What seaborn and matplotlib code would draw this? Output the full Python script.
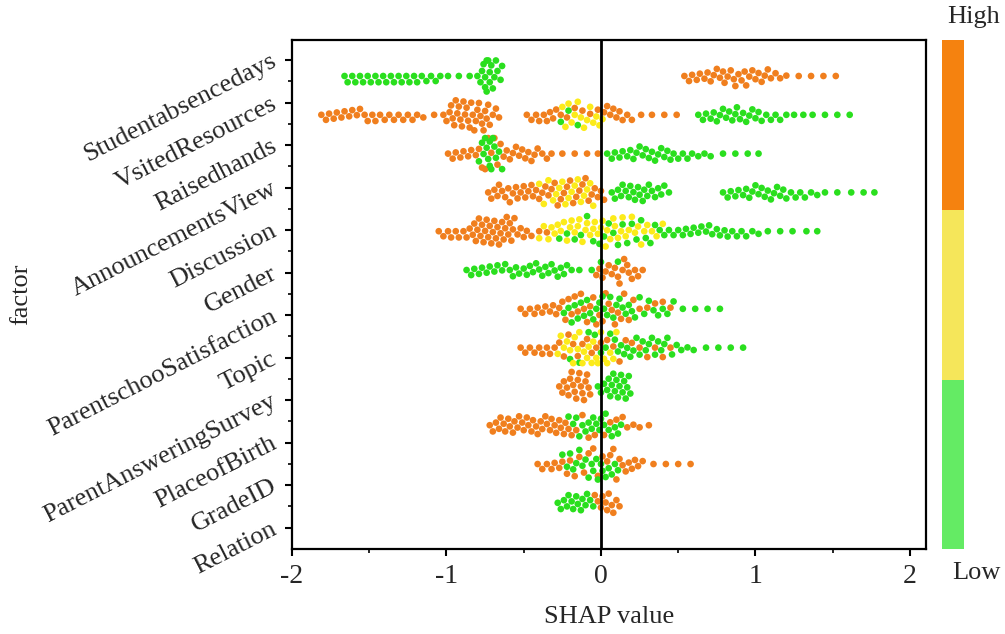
import numpy as np
import pandas as pd
import matplotlib
matplotlib.use("Agg")
import matplotlib.pyplot as plt
import seaborn as sns
from matplotlib.colors import ListedColormap

# factor names, top to bottom
features = ["Studentabsencedays", "VsitedResources", "Raisedhands", "AnnouncementsView",
            "Discussion", "Gender", "ParentschooSatisfaction", "Topic",
            "ParentAnsweringSurvey", "PlaceofBirth", "GradeID", "Relation"]

# SHAP values, split by feature value level (low / mid / high)
absence_low = [-1.66, -1.64, -1.61, -1.59, -1.56, -1.54, -1.51, -1.49, -1.46, -1.44, -1.41, -1.39,
               -1.36, -1.34, -1.31, -1.29, -1.26, -1.24, -1.21, -1.19, -1.16, -1.13, -1.10, -1.07,
               -1.04, -0.99, -0.92, -0.85, -0.80, -0.78, -0.77, -0.76, -0.75, -0.75, -0.74, -0.74,
               -0.73, -0.72, -0.72, -0.71, -0.70, -0.69, -0.68, -0.67, -0.65, -0.64]
absence_high = [0.54, 0.57, 0.59, 0.62, 0.64, 0.67, 0.69, 0.71, 0.73, 0.75, 0.77, 0.79, 0.80, 0.82,
                0.84, 0.86, 0.87, 0.89, 0.91, 0.93, 0.94, 0.96, 0.98, 1.00, 1.02, 1.04, 1.06, 1.08,
                1.10, 1.13, 1.16, 1.20, 1.28, 1.36, 1.44, 1.52]

visited_low = [-0.26, -0.21, -0.15, 0.63, 0.66, 0.68, 0.71, 0.73, 0.75, 0.77, 0.79,
               0.81, 0.83, 0.85, 0.87, 0.88, 0.90, 0.92, 0.94, 0.96, 0.98, 1.00, 1.02, 1.04, 1.07,
               1.10, 1.13, 1.16, 1.20, 1.25, 1.31, 1.37, 1.45, 1.53, 1.61]
visited_mid = [-0.25, -0.23, -0.21, -0.19, -0.17, -0.15, -0.13, -0.11, -0.09, -0.07, -0.05, -0.03,
               -0.01, 0.01]
visited_high = [-1.81, -1.78, -1.76, -1.73, -1.71, -1.68, -1.66, -1.63, -1.61, -1.58, -1.56, -1.53,
                -1.51, -1.48, -1.46, -1.43, -1.40, -1.37, -1.34, -1.31, -1.28, -1.25, -1.22, -1.19,
                -1.15, -1.08, -1.02, -1.00, -0.98, -0.97, -0.96, -0.95, -0.94, -0.93, -0.92, -0.91,
                -0.90, -0.89, -0.88, -0.87, -0.86, -0.85, -0.84, -0.83, -0.82, -0.81, -0.80, -0.79,
                -0.78, -0.77, -0.76, -0.75, -0.74, -0.73, -0.72, -0.70, -0.68, -0.66,
                -0.48, -0.45, -0.42, -0.40, -0.37, -0.35, -0.33, -0.31, -0.29, -0.26, -0.22,
                -0.17, -0.12, -0.07, -0.02, 0.02, 0.04, 0.06, 0.08, 0.10, 0.12,
                0.14, 0.17, 0.20, 0.26, 0.33, 0.41, 0.49]

raised_low = [-0.79, -0.77, -0.76, -0.75, -0.74, -0.73, -0.72, -0.72, -0.71, -0.70, -0.69, -0.68,
              -0.66, -0.64, 0.04, 0.07, 0.09, 0.12, 0.14, 0.17, 0.19, 0.21, 0.23, 0.25, 0.27, 0.29,
              0.31, 0.33, 0.35, 0.37, 0.39, 0.41, 0.43, 0.45, 0.47, 0.50, 0.53, 0.56, 0.59, 0.63,
              0.67, 0.71, 0.79, 0.87, 0.95, 1.02]
raised_high = [-0.99, -0.96, -0.94, -0.91, -0.89, -0.86, -0.84, -0.81, -0.79, -0.77, -0.75, -0.73,
               -0.71, -0.69, -0.67, -0.65, -0.63, -0.61, -0.59, -0.57, -0.55, -0.53, -0.51, -0.49,
               -0.47, -0.45, -0.43, -0.41, -0.38, -0.35, -0.32, -0.25, -0.17, -0.09, -0.02]

announce_low = [0.07, 0.09, 0.11, 0.13, 0.14, 0.16, 0.18, 0.19, 0.21, 0.22, 0.24, 0.25, 0.27, 0.28,
                0.30, 0.31, 0.33, 0.35, 0.37, 0.39, 0.41, 0.44, 0.79, 0.82, 0.84, 0.87, 0.89, 0.92,
                0.94, 0.96, 0.98, 1.00, 1.02, 1.04, 1.06, 1.08, 1.10, 1.12, 1.14, 1.16, 1.18, 1.20,
                1.23, 1.26, 1.29, 1.32, 1.36, 1.40, 1.45, 1.53, 1.62, 1.70, 1.77]
announce_mid = [-0.40, -0.37, -0.34, -0.31, -0.29, -0.27, -0.25, -0.23, -0.21, -0.19, -0.17, -0.15,
                -0.13, -0.11, -0.09, -0.07, -0.05]
announce_high = [-0.73, -0.71, -0.69, -0.67, -0.66, -0.64, -0.62, -0.60, -0.59, -0.57, -0.55, -0.54,
                 -0.52, -0.50, -0.49, -0.47, -0.45, -0.44, -0.42, -0.40, -0.38, -0.36, -0.34, -0.32,
                 -0.30, -0.28, -0.26, -0.24, -0.22, -0.20, -0.18, -0.16, -0.14, -0.12, -0.10, -0.08,
                 -0.06, -0.04, -0.02, 0.00, 0.02]

discussion_low = [-0.27, -0.22, -0.17, -0.13, -0.09, -0.05, -0.01, 0.02, 0.05, 0.08, 0.11, 0.14,
                  0.17, 0.20, 0.23, 0.26, 0.29, 0.32, 0.35, 0.38, 0.41, 0.44, 0.47, 0.50, 0.53, 0.55,
                  0.58, 0.60, 0.63, 0.65, 0.68, 0.70, 0.72, 0.75, 0.77, 0.80, 0.82, 0.85, 0.88, 0.91,
                  0.94, 0.98, 1.02, 1.08, 1.16, 1.24, 1.33, 1.40]
discussion_mid = [-0.40, -0.37, -0.34, -0.32, -0.30, -0.28, -0.26, -0.24, -0.22, -0.20, -0.19, -0.17,
                  -0.15, -0.14, -0.12, -0.10, -0.09, -0.07, -0.05, -0.04, -0.02, 0.00, 0.01, 0.03,
                  0.04, 0.06, 0.08, 0.09, 0.11, 0.13, 0.14, 0.16, 0.18, 0.20, 0.22, 0.24, 0.26, 0.28,
                  0.30, 0.33, 0.36, 0.40]
discussion_high = [-1.05, -1.02, -0.99, -0.97, -0.94, -0.92, -0.89, -0.87, -0.85, -0.83, -0.82,
                   -0.81, -0.80, -0.79, -0.78, -0.77, -0.76, -0.75, -0.74, -0.73, -0.72, -0.71,
                   -0.70, -0.69, -0.68, -0.67, -0.66, -0.65, -0.64, -0.63, -0.62, -0.61, -0.60,
                   -0.59, -0.58, -0.57, -0.56, -0.54, -0.52, -0.50, -0.48, -0.45, -0.40, -0.35]

gender_low = [-0.87, -0.84, -0.82, -0.79, -0.77, -0.74, -0.72, -0.69, -0.67, -0.64, -0.62, -0.59,
              -0.57, -0.55, -0.53, -0.50, -0.48, -0.46, -0.44, -0.42, -0.40, -0.38, -0.36, -0.34,
              -0.32, -0.30, -0.28, -0.26, -0.24, -0.22, -0.19, -0.14, -0.06, 0.00, 0.11]
gender_high = [-0.03, -0.01, 0.01, 0.03, 0.05, 0.07, 0.09, 0.11, 0.12, 0.14, 0.15, 0.17, 0.18,
               0.20, 0.22, 0.24, 0.27]

satisfaction_low = [-0.24, -0.21, -0.19, -0.17, -0.15, -0.13, -0.11, -0.09, -0.07, -0.05, -0.03,
                    -0.01, 0.01, 0.02, 0.04, 0.06, 0.08, 0.10, 0.12, 0.14, 0.16, 0.18, 0.20, 0.22,
                    0.25, 0.28, 0.31, 0.34, 0.37, 0.40, 0.43, 0.47, 0.53, 0.61, 0.69, 0.77]
satisfaction_high = [-0.52, -0.49, -0.46, -0.43, -0.41, -0.38, -0.36, -0.33, -0.31, -0.29, -0.27,
                     -0.25, -0.23, -0.21, -0.19, -0.17, -0.15, -0.13, -0.11, -0.09, -0.07, -0.05,
                     -0.03, -0.01, 0.01, 0.03, 0.05, 0.07, 0.09, 0.11, 0.13, 0.15, 0.18, 0.21, 0.25,
                     0.30, 0.35, 0.40, 0.45]

topic_low = [-0.20, -0.14, -0.08, -0.04, 0.00, 0.03, 0.06, 0.09, 0.11, 0.13, 0.15, 0.17, 0.19, 0.21,
             0.23, 0.25, 0.27, 0.29, 0.31, 0.33, 0.35, 0.37, 0.39, 0.41, 0.43, 0.46, 0.49, 0.52,
             0.56, 0.60, 0.68, 0.76, 0.84, 0.92]
topic_mid = [-0.28, -0.26, -0.24, -0.22, -0.20, -0.18, -0.17, -0.15, -0.14, -0.12, -0.11, -0.09,
             -0.08, -0.06, -0.05, -0.03, -0.02, 0.00, 0.02, 0.04, 0.06, 0.08, 0.10]
topic_high = [-0.52, -0.49, -0.46, -0.43, -0.40, -0.38, -0.35, -0.33, -0.30, -0.27, -0.24, -0.21,
              -0.18, -0.15, -0.12, -0.09, -0.06, -0.03, 0.00, 0.04, 0.08, 0.12, 0.16, 0.20, 0.25,
              0.30, 0.35, 0.40, 0.45]

survey_low = [-0.02, 0.00, 0.02, 0.04, 0.05, 0.06, 0.07, 0.08, 0.09, 0.10, 0.11, 0.12, 0.13, 0.14,
              0.15, 0.16, 0.17, 0.18, 0.19]
survey_high = [-0.27, -0.25, -0.24, -0.22, -0.21, -0.20, -0.19, -0.18, -0.17, -0.16, -0.15, -0.14,
               -0.13, -0.12, -0.11, -0.10, -0.09, -0.08, -0.07]

birth_low = [-0.21, -0.18, -0.16, -0.14, -0.12, -0.10, -0.08, -0.06, -0.05, -0.03, -0.01, 0.00,
             0.02, 0.03, 0.05, 0.07, 0.09, 0.11, 0.13]
birth_high = [-0.72, -0.70, -0.68, -0.66, -0.65, -0.63, -0.62, -0.60, -0.59, -0.57, -0.56, -0.54,
              -0.53, -0.51, -0.50, -0.48, -0.47, -0.45, -0.44, -0.42, -0.41, -0.39, -0.38, -0.36,
              -0.35, -0.33, -0.32, -0.30, -0.29, -0.27, -0.26, -0.24, -0.23, -0.21, -0.19, -0.16,
              -0.12, -0.08, -0.04, 0.02, 0.06, 0.10, 0.14, 0.17, 0.21, 0.25, 0.31]

grade_low = [-0.25, -0.22, -0.20, -0.18, -0.16, -0.14, -0.12, -0.10, -0.08, -0.06, -0.05, -0.03,
             -0.02, 0.00, 0.01, 0.03, 0.05, 0.07, 0.09, 0.11]
grade_high = [-0.41, -0.38, -0.35, -0.32, -0.30, -0.27, -0.25, -0.22, -0.20, -0.17, -0.14, -0.11,
              -0.08, -0.05, -0.02, 0.01, 0.04, 0.06, 0.08, 0.10, 0.12, 0.14, 0.16, 0.18, 0.20, 0.22,
              0.24, 0.27, 0.34, 0.42, 0.50, 0.58]

relation_low = [-0.28, -0.26, -0.24, -0.22, -0.21, -0.19, -0.18, -0.16, -0.15, -0.13, -0.12, -0.10,
                -0.09, -0.07, -0.05]
relation_high = [-0.04, -0.02, 0.00, 0.01, 0.03, 0.04, 0.05, 0.07, 0.08, 0.10, 0.12]

levels = ["High", "Low", "Mid"]
dot_colors = {"High": "#F07F1E", "Low": "#2ADF1E", "Mid": "#FCEB1A"}
bar_colors = ["#64EB64", "#F5E65A", "#F5820F"]

groups = {
    "Studentabsencedays": (absence_low, [], absence_high),
    "VsitedResources": (visited_low, visited_mid, visited_high),
    "Raisedhands": (raised_low, [], raised_high),
    "AnnouncementsView": (announce_low, announce_mid, announce_high),
    "Discussion": (discussion_low, discussion_mid, discussion_high),
    "Gender": (gender_low, [], gender_high),
    "ParentschooSatisfaction": (satisfaction_low, [], satisfaction_high),
    "Topic": (topic_low, topic_mid, topic_high),
    "ParentAnsweringSurvey": (survey_low, [], survey_high),
    "PlaceofBirth": (birth_low, [], birth_high),
    "GradeID": (grade_low, [], grade_high),
    "Relation": (relation_low, [], relation_high),
}

rows = []
for name in features:
    low, mid, high = groups[name]
    # draw order: high first, then low, then mid on top
    for lvl, vals in (("High", high), ("Low", low), ("Mid", mid)):
        for v in vals:
            rows.append((name, v, lvl))
df = pd.DataFrame(rows, columns=["factor", "shap", "level"])

sns.set_style("ticks")
plt.rcParams["font.family"] = ["Liberation Serif", "DejaVu Serif"]
plt.rcParams["font.style"] = "normal"
plt.rcParams["axes.unicode_minus"] = False

fig = plt.figure(figsize=(10.05, 6.34), dpi=100)
ax = fig.add_axes([292 / 1005, 1 - 549 / 634, 634 / 1005, 509 / 634])

sns.swarmplot(data=df, x="shap", y="factor", hue="level", order=features,
              hue_order=levels, palette=dot_colors, size=4.8, linewidth=0,
              legend=False, ax=ax)

ax.axvline(0, color="black", lw=2, zorder=5)

ax.set_xlim(-2.0, 2.104)
ax.set_ylim(12.19, -0.928)

# row labels sit on their own tick grid, a bit off the dot rows
tick_pos = [-0.412 + 1.0954 * k for k in range(len(features))]
ax.set_yticks(tick_pos)
ax.set_yticklabels(features, rotation=27, ha="right", va="center",
                   rotation_mode="anchor", fontsize=19)
ax.set_yticks([p + 0.5477 for p in tick_pos[:-1]], minor=True)

ax.set_xticks([-2, -1, 0, 1, 2])
ax.set_xticklabels(["-2", "-1", "0", "1", "2"], fontsize=20)
ax.set_xticks([-1.5, -0.5, 0.5, 1.5], minor=True)

ax.tick_params(axis="both", which="major", direction="out", length=5, width=1.5,
               color="black", pad=6)
ax.tick_params(axis="both", which="minor", direction="out", length=3, width=1.2,
               color="black")
ax.tick_params(axis="y", which="major", pad=7)

for s in ax.spines.values():
    s.set_visible(True)
    s.set_linewidth(1.6)
    s.set_color("black")

ax.set_xlabel("SHAP value", fontsize=19, labelpad=12)
ax.set_ylabel("factor", fontsize=19)
ax.yaxis.set_label_coords(-0.41, 0.5)
ax.grid(False)

# discrete High/Low color bar
cax = fig.add_axes([942 / 1005, 1 - 549 / 634, 22 / 1005, 509 / 634])
cmap = ListedColormap(bar_colors)
cax.imshow(np.arange(3).reshape(3, 1), cmap=cmap, aspect="auto", origin="lower",
           extent=[0, 1, 0, 3])
cax.set_xticks([])
cax.set_yticks([])
for s in cax.spines.values():
    s.set_visible(False)

fig.text(974 / 1005, 1 - 17 / 634, "High", fontsize=19, ha="center", va="center")
fig.text(976 / 1005, 1 - 573 / 634, "Low", fontsize=19, ha="center", va="center")

fig.savefig("out.png", dpi=100)
